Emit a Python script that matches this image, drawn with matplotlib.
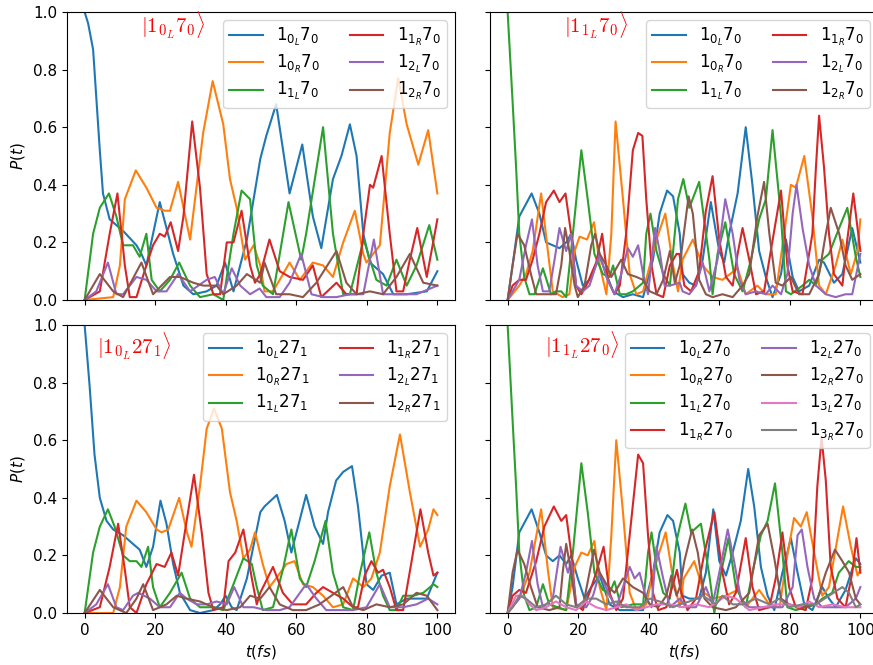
import matplotlib.pyplot as plt

plt.rcParams['font.size'] = 11

# =========================
# panel a: |1_{0L} 7_0>
# =========================
a_labels = [r'$1_{0_L}7_0$', r'$1_{0_R}7_0$', r'$1_{1_L}7_0$',
            r'$1_{1_R}7_0$', r'$1_{2_L}7_0$', r'$1_{2_R}7_0$']

a0L_t = [0, 1.0, 2.4, 4.3, 5.2, 7.1, 10.9, 14.7, 16.1, 17.5, 21.3, 25.1, 28.0, 30.8, 34.6, 37.4, 39.8, 42.2, 46.0,
         49.8, 51.5, 54.3, 58.1, 61.7, 64.7, 67.1, 70.4, 72.8, 75.2, 77.1, 79.0, 80.9, 84.6, 87.5, 91.3, 97.0, 100]
a0L_p = [1.0, 0.96, 0.87, 0.52, 0.37, 0.28, 0.24, 0.19, 0.16, 0.12, 0.34, 0.16, 0.05, 0.02, 0.03, 0.05, 0.13, 0.03, 0.21,
         0.49, 0.57, 0.68, 0.37, 0.54, 0.29, 0.18, 0.42, 0.50, 0.61, 0.50, 0.23, 0.13, 0.09, 0.02, 0.02, 0.03, 0.10]
a0R_t = [0, 8.1, 10.0, 11.4, 14.5, 17.5, 20.4, 22.7, 24.2, 26.5, 29.9, 33.6, 36.3, 39.3, 41.2, 43.1, 45.5, 47.9, 49.8,
         51.0, 53.4, 55.3, 58.1, 61.0, 64.7, 67.6, 70.4, 73.3, 76.6, 79.0, 79.9, 83.7, 86.5, 88.9, 91.3, 94.6, 97.4, 100]
a0R_p = [0, 0.01, 0.12, 0.35, 0.45, 0.39, 0.32, 0.31, 0.31, 0.41, 0.21, 0.58, 0.76, 0.61, 0.42, 0.32, 0.14, 0.19, 0.12,
         0.03, 0.03, 0.07, 0.13, 0.07, 0.13, 0.12, 0.08, 0.20, 0.31, 0.16, 0.13, 0.19, 0.58, 0.77, 0.61, 0.47, 0.59, 0.37]
a1L_t = [0, 2.4, 4.3, 6.9, 9.0, 10.9, 13.7, 15.6, 17.5, 19.0, 21.3, 24.2, 26.8, 29.9, 32.7, 36.5, 39.3, 42.2, 44.5,
         46.9, 48.8, 50.5, 53.4, 57.8, 61.4, 62.8, 67.6, 70.4, 73.3, 75.2, 79.1, 82.7, 85.6, 88.4, 91.3, 94.1, 97.7, 100]
a1L_p = [0, 0.23, 0.32, 0.37, 0.29, 0.19, 0.19, 0.15, 0.23, 0.07, 0.03, 0.07, 0.13, 0.05, 0.01, 0.02, 0.0, 0.23, 0.38,
         0.35, 0.12, 0.05, 0.02, 0.34, 0.14, 0.23, 0.60, 0.23, 0.02, 0.02, 0.21, 0.07, 0.05, 0.14, 0.05, 0.12, 0.26, 0.14]
a1R_t = [0, 4.3, 7.1, 9.3, 11.4, 12.8, 14.7, 17.5, 19.4, 21.3, 22.7, 24.4, 26.5, 28.0, 30.5, 32.7, 34.6, 36.5, 38.4,
         40.3, 42.2, 44.5, 46.9, 48.3, 49.8, 52.4, 55.3, 58.1, 61.9, 64.7, 67.1, 71.4, 74.2, 77.1, 79.0, 80.9, 81.8,
         84.2, 86.5, 88.4, 90.3, 92.2, 94.3, 97.0, 100]
a1R_p = [0, 0.03, 0.23, 0.37, 0.12, 0.01, 0.01, 0.12, 0.19, 0.23, 0.22, 0.27, 0.17, 0.29, 0.62, 0.39, 0.09, 0.02, 0.02,
         0.20, 0.20, 0.31, 0.12, 0.06, 0.09, 0.21, 0.10, 0.08, 0.07, 0.12, 0.01, 0.06, 0.02, 0.02, 0.23, 0.40, 0.39,
         0.50, 0.23, 0.03, 0.03, 0.14, 0.25, 0.08, 0.28]
a2L_t = [0, 3.3, 6.6, 9.0, 10.9, 14.7, 17.5, 20.4, 23.2, 26.5, 29.9, 34.6, 36.9, 39.3, 41.7, 44.1, 46.9, 49.6, 51.5,
         55.3, 58.1, 61.4, 64.3, 67.6, 71.4, 75.2, 79.0, 82.0, 84.6, 88.4, 94.1, 100]
a2L_p = [0, 0.03, 0.13, 0.02, 0.02, 0.08, 0.07, 0.03, 0.03, 0.09, 0.03, 0.07, 0.08, 0.02, 0.11, 0.05, 0.02, 0.04, 0.01,
         0.01, 0.06, 0.16, 0.02, 0.01, 0.01, 0.02, 0.02, 0.21, 0.02, 0.02, 0.02, 0.05]
a2R_t = [0, 4.3, 8.1, 10.9, 16.1, 19.4, 24.2, 27.0, 30.8, 33.6, 37.4, 39.3, 43.1, 46.0, 49.8, 51.0, 54.3, 58.1, 61.9,
         65.7, 71.4, 74.2, 77.1, 80.9, 84.6, 88.4, 92.2, 96.0, 100]
a2R_p = [0, 0.09, 0.03, 0.01, 0.13, 0.02, 0.08, 0.08, 0.06, 0.05, 0.05, 0.02, 0.05, 0.09, 0.06, 0.13, 0.02, 0.02, 0.01,
         0.06, 0.17, 0.06, 0.02, 0.03, 0.02, 0.08, 0.16, 0.06, 0.05]

# =========================
# panel b: |1_{1L} 7_0>
# =========================
b_labels = a_labels

b0L_t = [0, 1.4, 3.3, 6.8, 9.0, 10.9, 12.8, 14.7, 16.6, 18.0, 19.4, 21.3, 23.2, 26.1, 28.0, 29.9, 32.7, 35.5, 38.4,
         41.2, 43.1, 45.2, 46.9, 48.8, 49.6, 51.5, 53.4, 55.3, 57.6, 60.0, 61.4, 62.8, 65.2, 67.5, 69.4, 71.3, 73.2,
         75.1, 77.5, 78.9, 80.8, 82.6, 85.5, 88.3, 89.7, 92.5, 94.9, 97.7, 100]
b0L_p = [0, 0.12, 0.29, 0.37, 0.30, 0.20, 0.19, 0.18, 0.20, 0.23, 0.14, 0.05, 0.07, 0.15, 0.09, 0.03, 0.01, 0.02, 0.01,
         0.14, 0.30, 0.38, 0.36, 0.23, 0.09, 0.06, 0.05, 0.14, 0.34, 0.17, 0.13, 0.23, 0.37, 0.60, 0.40, 0.17, 0.08,
         0.01, 0.09, 0.21, 0.08, 0.03, 0.05, 0.14, 0.13, 0.06, 0.09, 0.25, 0.13]
b0R_t = [0, 3.3, 5.2, 7.1, 9.5, 11.4, 12.8, 15.6, 17.5, 19.0, 20.4, 22.5, 24.5, 26.1, 28.0, 29.4, 30.6, 32.7, 34.6,
         36.5, 38.4, 40.3, 42.2, 44.7, 46.9, 48.3, 49.6, 52.5, 55.3, 58.1, 60.9, 65.2, 67.5, 70.8, 73.2, 76.0, 78.4,
         80.3, 81.7, 84.1, 86.4, 88.3, 90.2, 93.0, 94.9, 97.3, 99.2, 100]
b0R_p = [0, 0.05, 0.09, 0.17, 0.37, 0.17, 0.03, 0.01, 0.02, 0.17, 0.22, 0.21, 0.27, 0.12, 0.02, 0.23, 0.62, 0.35, 0.09,
         0.02, 0.03, 0.12, 0.21, 0.30, 0.12, 0.03, 0.14, 0.21, 0.12, 0.08, 0.07, 0.11, 0.02, 0.05, 0.02, 0.02, 0.23,
         0.40, 0.39, 0.50, 0.29, 0.05, 0.02, 0.12, 0.21, 0.09, 0.17, 0.28]
b1L_t = [0, 1.4, 2.4, 3.3, 4.7, 6.2, 7.6, 10.0, 12.3, 13.7, 15.2, 16.6, 18.5, 20.9, 22.7, 24.6, 27.0, 28.9, 29.9,
         31.8, 33.6, 35.5, 38.4, 39.3, 40.5, 42.2, 44.1, 46.0, 48.3, 49.8, 51.5, 54.3, 57.2, 58.1, 59.5, 61.7, 64.2,
         66.6, 69.0, 71.3, 73.2, 75.1, 77.5, 78.9, 80.3, 83.6, 85.5, 87.4, 89.2, 91.1, 94.0, 96.3, 98.7, 100]
b1L_p = [1.0, 0.69, 0.46, 0.23, 0.08, 0.02, 0.02, 0.11, 0.02, 0.03, 0.03, 0.01, 0.23, 0.52, 0.35, 0.16, 0.09, 0.08, 0.12,
         0.02, 0.02, 0.03, 0.06, 0.23, 0.30, 0.17, 0.09, 0.05, 0.35, 0.42, 0.32, 0.41, 0.14, 0.02, 0.16, 0.27, 0.09,
         0.03, 0.14, 0.28, 0.35, 0.59, 0.29, 0.03, 0.02, 0.05, 0.07, 0.05, 0.14, 0.16, 0.25, 0.32, 0.15, 0.08]
b1R_t = [0, 1.4, 3.3, 5.2, 7.1, 9.0, 10.9, 13.1, 14.7, 16.4, 18.0, 19.4, 20.9, 22.7, 23.7, 25.1, 26.8, 28.4, 30.3,
         31.8, 33.6, 35.5, 37.0, 38.2, 39.3, 40.8, 42.2, 44.1, 46.0, 47.9, 48.7, 50.1, 52.0, 54.3, 56.2, 58.1, 60.0,
         61.9, 63.8, 65.2, 66.6, 68.5, 70.4, 72.7, 74.6, 77.5, 79.3, 80.8, 83.6, 86.4, 87.4, 88.3, 89.7, 91.1, 92.5,
         94.9, 96.3, 98.0, 100]
b1R_p = [0, 0.05, 0.07, 0.07, 0.14, 0.23, 0.34, 0.38, 0.34, 0.37, 0.23, 0.05, 0.02, 0.06, 0.09, 0.13, 0.23, 0.07, 0.02,
         0.05, 0.23, 0.52, 0.58, 0.57, 0.35, 0.12, 0.02, 0.01, 0.12, 0.16, 0.16, 0.05, 0.03, 0.10, 0.31, 0.43, 0.21,
         0.08, 0.05, 0.16, 0.25, 0.14, 0.02, 0.03, 0.17, 0.38, 0.12, 0.03, 0.02, 0.23, 0.46, 0.64, 0.46, 0.23, 0.09,
         0.05, 0.21, 0.37, 0.17]
b2L_t = [0, 3.3, 5.2, 6.9, 8.5, 10.0, 11.8, 13.3, 14.7, 16.6, 18.0, 19.4, 21.3, 23.2, 26.1, 28.0, 30.3, 32.2, 34.1,
         35.5, 37.0, 38.4, 39.8, 41.8, 43.1, 44.5, 46.0, 48.8, 49.6, 51.5, 53.4, 55.3, 57.2, 59.5, 61.7, 63.8, 65.7,
         67.5, 70.4, 73.2, 75.1, 77.5, 79.3, 80.8, 81.9, 83.6, 85.5, 87.4, 90.2, 93.0, 95.8, 97.7, 100]
b2L_p = [0, 0.07, 0.19, 0.28, 0.12, 0.03, 0.03, 0.14, 0.25, 0.17, 0.23, 0.05, 0.03, 0.05, 0.16, 0.08, 0.02, 0.09, 0.18,
         0.15, 0.19, 0.09, 0.02, 0.25, 0.17, 0.05, 0.05, 0.06, 0.03, 0.02, 0.05, 0.13, 0.03, 0.14, 0.35, 0.23, 0.07,
         0.02, 0.03, 0.02, 0.05, 0.02, 0.09, 0.30, 0.40, 0.25, 0.12, 0.05, 0.02, 0.01, 0.02, 0.02, 0.16]
b2R_t = [0, 1.4, 2.8, 4.7, 6.6, 8.1, 10.9, 13.7, 15.2, 16.3, 17.5, 19.0, 19.9, 21.8, 23.7, 24.8, 26.1, 28.0, 29.4,
         32.2, 34.1, 36.5, 38.4, 40.3, 42.2, 44.1, 46.0, 47.4, 48.8, 51.3, 52.5, 54.3, 56.2, 58.1, 60.9, 63.8, 66.6,
         68.5, 70.8, 72.7, 74.2, 76.0, 77.9, 80.3, 82.6, 85.5, 88.3, 90.2, 91.6, 94.0, 95.8, 97.7, 100]
b2R_p = [0, 0.12, 0.23, 0.19, 0.09, 0.02, 0.02, 0.02, 0.12, 0.25, 0.17, 0.05, 0.01, 0.05, 0.19, 0.23, 0.16, 0.12, 0.08,
         0.14, 0.09, 0.08, 0.07, 0.03, 0.02, 0.07, 0.17, 0.06, 0.12, 0.36, 0.30, 0.07, 0.02, 0.01, 0.02, 0.01, 0.05,
         0.09, 0.29, 0.41, 0.23, 0.06, 0.05, 0.08, 0.02, 0.02, 0.09, 0.23, 0.32, 0.23, 0.12, 0.07, 0.09]

# =========================
# panel c: |1_{0L} 27_1>
# =========================
c_labels = [r'$1_{0_L}27_1$', r'$1_{0_R}27_1$', r'$1_{1_L}27_1$',
            r'$1_{1_R}27_1$', r'$1_{2_L}27_1$', r'$1_{2_R}27_1$']

c0L_t = [0, 1.4, 2.8, 4.3, 6.2, 8.1, 10.9, 13.7, 15.6, 17.5, 19.4, 21.5, 23.2, 25.1, 27.0, 29.9, 32.7, 36.5, 38.4,
         40.0, 41.7, 43.1, 46.0, 49.8, 51.0, 54.5, 56.7, 58.6, 60.5, 62.8, 65.2, 67.6, 69.0, 71.3, 73.3, 75.8, 77.5,
         79.9, 81.8, 84.2, 86.5, 88.4, 91.3, 94.1, 97.0, 100]
c0L_p = [1.0, 0.79, 0.55, 0.40, 0.32, 0.29, 0.27, 0.24, 0.22, 0.16, 0.23, 0.39, 0.31, 0.17, 0.07, 0.01, 0.0, 0.01, 0.03,
         0.06, 0.02, 0.01, 0.12, 0.35, 0.37, 0.41, 0.32, 0.21, 0.30, 0.41, 0.30, 0.24, 0.35, 0.46, 0.49, 0.51, 0.37,
         0.10, 0.08, 0.13, 0.14, 0.03, 0.05, 0.05, 0.05, 0.14]
c0R_t = [0, 8.1, 10.0, 11.8, 14.7, 17.5, 20.4, 21.8, 23.7, 26.8, 29.0, 30.3, 32.7, 34.6, 36.7, 38.9, 41.2, 43.1, 45.0,
         46.9, 48.3, 50.5, 52.4, 54.3, 57.2, 59.5, 61.9, 64.7, 67.6, 70.4, 73.3, 76.1, 79.0, 81.3, 83.7, 86.5, 89.4,
         92.2, 95.1, 97.4, 98.9, 100]
c0R_p = [0, 0.0, 0.09, 0.30, 0.39, 0.35, 0.29, 0.28, 0.29, 0.40, 0.28, 0.23, 0.44, 0.64, 0.71, 0.64, 0.42, 0.32, 0.19,
         0.22, 0.28, 0.17, 0.09, 0.12, 0.17, 0.18, 0.10, 0.09, 0.06, 0.02, 0.03, 0.12, 0.09, 0.12, 0.21, 0.44, 0.62,
         0.42, 0.23, 0.29, 0.36, 0.34]
c1L_t = [0, 2.4, 4.3, 6.6, 8.5, 10.9, 12.8, 14.7, 16.1, 18.0, 19.4, 21.3, 24.2, 27.5, 29.9, 32.7, 36.5, 39.3, 42.2,
         45.0, 47.4, 48.8, 50.5, 53.4, 56.2, 58.6, 61.0, 62.8, 65.2, 68.3, 70.4, 73.3, 76.1, 78.1, 80.7, 82.7, 84.6,
         86.5, 88.4, 90.3, 93.2, 96.0, 98.9, 100]
c1L_p = [0, 0.21, 0.30, 0.36, 0.30, 0.20, 0.18, 0.18, 0.16, 0.23, 0.09, 0.02, 0.07, 0.14, 0.05, 0.02, 0.02, 0.01, 0.10,
         0.19, 0.17, 0.09, 0.01, 0.02, 0.15, 0.29, 0.12, 0.09, 0.18, 0.32, 0.14, 0.02, 0.01, 0.14, 0.28, 0.14, 0.06,
         0.01, 0.01, 0.06, 0.06, 0.07, 0.10, 0.09]
c1R_t = [0, 4.3, 7.1, 9.5, 11.4, 12.8, 14.7, 17.5, 20.4, 22.7, 24.6, 26.5, 28.4, 31.0, 33.2, 35.1, 36.5, 39.3, 40.8,
         42.7, 45.0, 47.4, 48.8, 49.8, 53.4, 56.2, 59.0, 62.8, 65.7, 67.6, 70.4, 73.3, 76.1, 77.5, 79.4, 81.3, 83.2,
         84.6, 86.5, 88.4, 90.3, 92.7, 95.2, 97.4, 98.9, 100]
c1R_p = [0, 0.02, 0.16, 0.31, 0.15, 0.02, 0.0, 0.10, 0.17, 0.16, 0.21, 0.13, 0.28, 0.48, 0.28, 0.07, 0.01, 0.02, 0.18,
         0.21, 0.29, 0.12, 0.03, 0.07, 0.16, 0.07, 0.03, 0.03, 0.07, 0.09, 0.07, 0.05, 0.02, 0.02, 0.13, 0.18, 0.14,
         0.15, 0.09, 0.01, 0.01, 0.18, 0.36, 0.21, 0.13, 0.14]
c2L_t = [0, 3.3, 6.6, 9.0, 10.9, 13.7, 15.2, 18.5, 21.3, 24.2, 27.0, 28.9, 31.8, 34.6, 37.4, 40.3, 42.4, 45.0, 47.9,
         51.5, 55.3, 58.1, 62.8, 65.7, 68.5, 72.3, 76.1, 79.9, 83.7, 86.5, 90.3, 94.1, 97.4, 100]
c2L_p = [0, 0.03, 0.10, 0.02, 0.01, 0.06, 0.07, 0.05, 0.02, 0.02, 0.07, 0.05, 0.03, 0.03, 0.04, 0.03, 0.09, 0.02, 0.02,
         0.01, 0.01, 0.02, 0.10, 0.05, 0.01, 0.01, 0.01, 0.02, 0.10, 0.02, 0.02, 0.03, 0.05, 0.03]
c2R_t = [0, 4.3, 8.1, 11.8, 14.7, 16.6, 19.4, 23.2, 26.1, 28.9, 32.7, 36.5, 40.3, 44.1, 46.9, 49.8, 52.4, 55.3, 59.0,
         62.8, 66.6, 73.3, 76.1, 79.0, 82.7, 86.5, 90.3, 94.1, 97.0, 100]
c2R_p = [0, 0.08, 0.02, 0.0, 0.05, 0.10, 0.01, 0.03, 0.06, 0.05, 0.04, 0.02, 0.01, 0.02, 0.06, 0.05, 0.09, 0.03, 0.01,
         0.01, 0.03, 0.09, 0.02, 0.01, 0.03, 0.02, 0.03, 0.07, 0.06, 0.01]

# =========================
# panel d: |1_{1L} 27_0>
# =========================
d_labels = [r'$1_{0_L}27_0$', r'$1_{0_R}27_0$', r'$1_{1_L}27_0$', r'$1_{1_R}27_0$',
            r'$1_{2_L}27_0$', r'$1_{2_R}27_0$', r'$1_{3_L}27_0$', r'$1_{3_R}27_0$']

d0L_t = [0, 1.4, 3.3, 6.8, 9.0, 10.9, 12.8, 14.7, 16.6, 18.0, 19.9, 21.8, 23.7, 26.1, 28.9, 31.8, 35.5, 38.4, 41.2,
         43.1, 45.3, 46.9, 48.8, 49.6, 51.5, 54.3, 56.2, 58.3, 60.0, 61.9, 63.8, 66.1, 68.2, 69.9, 71.8, 73.7, 75.6,
         77.9, 80.3, 82.2, 84.1, 86.4, 89.2, 91.1, 93.0, 95.8, 98.7, 100]
d0L_p = [0, 0.09, 0.28, 0.36, 0.28, 0.20, 0.18, 0.20, 0.17, 0.20, 0.12, 0.05, 0.09, 0.13, 0.03, 0.01, 0.01, 0.01, 0.14,
         0.28, 0.34, 0.32, 0.21, 0.06, 0.05, 0.05, 0.14, 0.36, 0.18, 0.13, 0.21, 0.32, 0.50, 0.37, 0.16, 0.06, 0.01,
         0.14, 0.26, 0.14, 0.03, 0.01, 0.09, 0.05, 0.02, 0.08, 0.19, 0.17]
d0R_t = [0, 3.3, 6.2, 9.5, 11.4, 12.8, 16.6, 19.0, 20.9, 22.7, 24.6, 26.1, 28.0, 29.4, 30.8, 32.7, 34.6, 36.5, 39.3,
         41.2, 44.8, 46.9, 48.8, 49.9, 52.9, 55.7, 58.1, 61.9, 65.2, 67.5, 71.3, 74.2, 77.1, 79.0, 81.2, 83.1, 84.8,
         86.9, 89.2, 91.1, 92.8, 95.1, 97.3, 99.2, 100]
d0R_p = [0, 0.05, 0.14, 0.36, 0.15, 0.02, 0.01, 0.16, 0.21, 0.20, 0.25, 0.09, 0.01, 0.27, 0.60, 0.35, 0.07, 0.01, 0.03,
         0.14, 0.28, 0.12, 0.02, 0.12, 0.18, 0.07, 0.05, 0.06, 0.08, 0.02, 0.08, 0.03, 0.02, 0.18, 0.33, 0.30, 0.35,
         0.21, 0.06, 0.09, 0.21, 0.37, 0.23, 0.13, 0.15]
d1L_t = [0, 1.4, 2.4, 3.3, 4.7, 6.2, 8.1, 10.0, 11.8, 14.2, 16.6, 18.5, 20.9, 22.7, 24.6, 27.0, 28.9, 30.3, 32.2,
         35.5, 38.4, 39.8, 40.8, 42.2, 44.1, 46.0, 47.9, 48.8, 50.4, 52.0, 54.8, 57.2, 58.6, 60.5, 62.6, 64.7, 67.5,
         69.4, 71.8, 73.7, 75.8, 77.9, 79.3, 81.7, 84.5, 87.4, 89.2, 92.0, 93.9, 96.7, 98.7, 100]
d1L_p = [1.0, 0.67, 0.44, 0.21, 0.06, 0.01, 0.02, 0.10, 0.03, 0.02, 0.01, 0.21, 0.52, 0.35, 0.14, 0.08, 0.07, 0.11, 0.02,
         0.03, 0.03, 0.21, 0.28, 0.16, 0.07, 0.05, 0.25, 0.30, 0.38, 0.28, 0.31, 0.13, 0.0, 0.14, 0.26, 0.09, 0.02,
         0.14, 0.27, 0.32, 0.45, 0.21, 0.02, 0.01, 0.02, 0.03, 0.05, 0.07, 0.14, 0.18, 0.16, 0.16]
d1R_t = [0, 1.4, 3.3, 5.2, 8.1, 10.4, 13.1, 15.2, 16.6, 18.0, 19.4, 21.3, 23.2, 25.1, 27.2, 28.9, 30.8, 32.7, 34.6,
         37.0, 38.4, 39.8, 41.2, 42.7, 45.0, 46.9, 48.0, 49.2, 51.0, 53.4, 55.8, 58.6, 60.9, 62.8, 64.7, 67.5, 69.4,
         71.3, 74.2, 76.0, 77.9, 79.8, 81.7, 84.5, 86.4, 87.8, 89.0, 90.2, 91.6, 93.5, 95.8, 97.7, 98.9, 100]
d1R_p = [0, 0.06, 0.08, 0.07, 0.18, 0.30, 0.37, 0.32, 0.34, 0.21, 0.03, 0.01, 0.07, 0.14, 0.23, 0.07, 0.01, 0.05, 0.27,
         0.55, 0.52, 0.27, 0.07, 0.01, 0.02, 0.10, 0.15, 0.07, 0.01, 0.05, 0.21, 0.35, 0.14, 0.03, 0.07, 0.26, 0.09,
         0.01, 0.02, 0.12, 0.28, 0.09, 0.02, 0.01, 0.12, 0.44, 0.61, 0.46, 0.16, 0.05, 0.02, 0.14, 0.26, 0.14]
d2L_t = [0, 3.3, 5.2, 6.9, 8.5, 10.0, 12.8, 15.0, 17.1, 18.0, 19.4, 22.3, 24.2, 26.1, 28.9, 30.8, 32.7, 34.6, 36.0,
         37.4, 39.3, 40.8, 42.2, 44.1, 46.0, 48.8, 50.6, 53.4, 56.2, 58.1, 60.0, 62.4, 64.2, 66.1, 68.5, 72.3, 75.1,
         77.9, 80.8, 82.2, 83.4, 85.0, 86.9, 89.2, 93.0, 95.8, 98.7, 100]
d2L_p = [0, 0.05, 0.14, 0.25, 0.10, 0.02, 0.05, 0.23, 0.14, 0.18, 0.03, 0.02, 0.06, 0.14, 0.06, 0.02, 0.09, 0.16, 0.12,
         0.14, 0.05, 0.02, 0.23, 0.12, 0.02, 0.05, 0.02, 0.02, 0.09, 0.03, 0.14, 0.29, 0.18, 0.05, 0.02, 0.02, 0.02,
         0.02, 0.09, 0.27, 0.29, 0.16, 0.05, 0.02, 0.02, 0.02, 0.05, 0.09]
d2R_t = [0, 1.4, 2.8, 4.7, 6.6, 8.5, 11.8, 14.7, 15.6, 16.6, 18.0, 19.4, 21.3, 23.2, 24.5, 26.1, 28.0, 30.3, 32.7,
         35.5, 38.4, 40.3, 42.7, 45.0, 46.4, 47.9, 48.8, 50.1, 52.3, 53.9, 55.8, 58.1, 61.9, 64.7, 68.5, 71.3, 73.7,
         75.6, 77.5, 79.8, 83.6, 87.4, 90.2, 92.8, 94.9, 96.8, 98.7, 100]
d2R_p = [0, 0.14, 0.22, 0.17, 0.09, 0.02, 0.01, 0.02, 0.14, 0.24, 0.14, 0.02, 0.02, 0.14, 0.22, 0.14, 0.10, 0.07, 0.12,
         0.09, 0.07, 0.03, 0.02, 0.06, 0.13, 0.06, 0.09, 0.18, 0.29, 0.21, 0.05, 0.02, 0.01, 0.02, 0.07, 0.27, 0.31,
         0.19, 0.05, 0.03, 0.02, 0.03, 0.14, 0.22, 0.18, 0.14, 0.05, 0.03]
d3L_t = [0, 2.4, 4.3, 6.2, 8.1, 10.9, 13.7, 16.6, 19.4, 22.3, 25.1, 28.0, 30.8, 33.6, 36.5, 39.3, 42.2, 46.0, 49.6,
         53.4, 57.2, 61.9, 64.7, 68.5, 72.3, 76.0, 79.8, 82.6, 85.5, 88.3, 92.1, 95.8, 100]
d3L_p = [0, 0.06, 0.06, 0.03, 0.01, 0.02, 0.04, 0.02, 0.01, 0.04, 0.02, 0.01, 0.02, 0.03, 0.01, 0.02, 0.03, 0.03, 0.02,
         0.03, 0.02, 0.06, 0.05, 0.01, 0.02, 0.03, 0.03, 0.02, 0.04, 0.02, 0.03, 0.02, 0.02]
d3R_t = [0, 1.4, 3.3, 5.2, 8.1, 10.9, 13.7, 16.6, 19.4, 22.3, 25.1, 28.0, 30.8, 33.6, 37.4, 40.3, 43.1, 46.9, 48.8,
         51.5, 55.3, 59.1, 60.9, 63.8, 66.6, 70.4, 74.2, 77.0, 79.8, 83.6, 87.4, 91.1, 94.9, 96.8, 98.7, 100]
d3R_p = [0, 0.02, 0.06, 0.05, 0.02, 0.03, 0.06, 0.03, 0.02, 0.05, 0.05, 0.03, 0.04, 0.02, 0.02, 0.05, 0.04, 0.02, 0.03,
         0.04, 0.06, 0.03, 0.06, 0.03, 0.03, 0.05, 0.03, 0.05, 0.02, 0.03, 0.03, 0.06, 0.09, 0.07, 0.02, 0.03]

colors = ['C0', 'C1', 'C2', 'C3', 'C4', 'C5', 'C6', 'C7']

panels = [
    (r'$|1_{0_L}7_0\rangle$', a_labels,
     [(a0L_t, a0L_p), (a0R_t, a0R_p), (a1L_t, a1L_p), (a1R_t, a1R_p), (a2L_t, a2L_p), (a2R_t, a2R_p)],
     (25, 0.955)),
    (r'$|1_{1_L}7_0\rangle$', b_labels,
     [(b0L_t, b0L_p), (b0R_t, b0R_p), (b1L_t, b1L_p), (b1R_t, b1R_p), (b2L_t, b2L_p), (b2R_t, b2R_p)],
     (25, 0.955)),
    (r'$|1_{0_L}27_1\rangle$', c_labels,
     [(c0L_t, c0L_p), (c0R_t, c0R_p), (c1L_t, c1L_p), (c1R_t, c1R_p), (c2L_t, c2L_p), (c2R_t, c2R_p)],
     (14, 0.925)),
    (r'$|1_{1_L}27_0\rangle$', d_labels,
     [(d0L_t, d0L_p), (d0R_t, d0R_p), (d1L_t, d1L_p), (d1R_t, d1R_p), (d2L_t, d2L_p), (d2R_t, d2R_p),
      (d3L_t, d3L_p), (d3R_t, d3R_p)],
     (21, 0.93)),
]

# =========================
# figure
# =========================
fig = plt.figure(figsize=(8.73, 6.65), dpi=100)
W, H = 873, 665
rects = [(67, 12), (490, 12), (67, 325), (490, 325)]

axes = []
for (x0, y0) in rects:
    ax = fig.add_axes([x0 / W, 1 - (y0 + 288) / H, 388 / W, 288 / H])
    axes.append(ax)

for i, (ax, (title, labels, series, pos)) in enumerate(zip(axes, panels)):
    for (t, p), lab, col in zip(series, labels, colors):
        ax.plot(t, p, color=col, label=lab, linewidth=1.5)
    ax.set_xlim(-5, 105)
    ax.set_ylim(0, 1)
    ax.set_xticks([0, 20, 40, 60, 80, 100])
    ax.set_yticks([0.0, 0.2, 0.4, 0.6, 0.8, 1.0])
    ax.text(pos[0], pos[1], title, color='red', fontsize=15, math_fontfamily='cm',
            ha='center', va='center')
    ax.legend(loc='upper right', ncol=2, fontsize=12, labelspacing=0.3,
              columnspacing=1.8, borderpad=0.35, borderaxespad=0.5)
    if i < 2:
        ax.tick_params(labelbottom=False)
    else:
        ax.set_xlabel(r'$t(fs)$')
    if i % 2 == 1:
        ax.tick_params(labelleft=False)
    else:
        ax.set_ylabel(r'$P(t)$')

fig.savefig('out.png', dpi=100)
